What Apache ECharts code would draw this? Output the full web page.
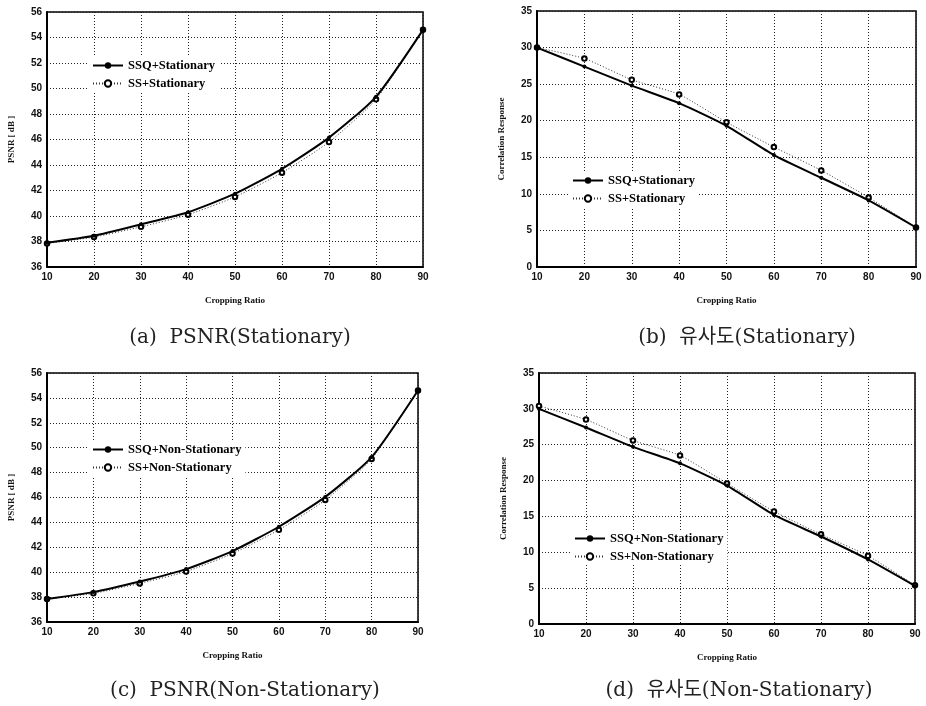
<!DOCTYPE html>
<html>
<head>
<meta charset="utf-8">
<script src="https://cdn.jsdelivr.net/npm/echarts@6/dist/echarts.min.js"></script>
<style>
  html, body { margin: 0; padding: 0; background: #fff; }
  #chart { width: 926px; height: 706px; }
</style>
</head>
<body>
<div id="chart"></div>
<script>
// cropping ratio (x axis)
const ratios = [10, 20, 30, 40, 50, 60, 70, 80, 90]

// PSNR, stationary
const psnrSsqStat = [37.9, 38.45, 39.35, 40.3, 41.75, 43.7, 46.15, 49.35, 54.6]
const psnrSsStat = [37.85, 38.35, 39.15, 40.1, 41.5, 43.4, 45.8, 49.15, 54.6]

// correlation response, stationary
const corrSsqStat = [30.0, 27.4, 24.8, 22.4, 19.3, 15.3, 12.2, 9.1, 5.4]
const corrSsStat = [30.0, 28.5, 25.6, 23.6, 19.8, 16.4, 13.2, 9.5, 5.4]

// PSNR, non-stationary
const psnrSsqNon = [37.85, 38.4, 39.25, 40.25, 41.7, 43.65, 46.05, 49.25, 54.6]
const psnrSsNon = [37.85, 38.3, 39.1, 40.05, 41.5, 43.4, 45.8, 49.1, 54.6]

// correlation response, non-stationary
const corrSsqNon = [30.0, 27.4, 24.7, 22.4, 19.3, 15.2, 12.2, 9.0, 5.3]
const corrSsNon = [30.4, 28.5, 25.6, 23.5, 19.6, 15.7, 12.5, 9.5, 5.4]

const captions = ['(a)  PSNR(Stationary)', '(b)  유사도(Stationary)', '(c)  PSNR(Non-Stationary)', '(d)  유사도(Non-Stationary)']
const legendNames = [
  ['SSQ+Stationary', 'SS+Stationary'],
  ['SSQ+Stationary', 'SS+Stationary'],
  ['SSQ+Non-Stationary', 'SS+Non-Stationary'],
  ['SSQ+Non-Stationary', 'SS+Non-Stationary']
]

const serif = '"Liberation Serif", "DejaVu Serif", serif'
const captionFont = '"DejaVu Serif", "Noto Sans CJK KR", serif'
const panels = [
  { grid: { left: 47, top: 12, width: 376, height: 255 }, yName: 'PSNR [ dB ]', min: 36, max: 56, step: 2,
    ssq: psnrSsqStat, ss: psnrSsStat, legend: { left: 88, top: 57 }, caption: { x: 235, y: 323 } },
  { grid: { left: 537, top: 11, width: 379, height: 256 }, yName: 'Correlation Response', min: 0, max: 35, step: 5,
    ssq: corrSsqStat, ss: corrSsStat, legend: { left: 568, top: 172 }, caption: { x: 742, y: 323 } },
  { grid: { left: 47, top: 373, width: 371, height: 249 }, yName: 'PSNR [ dB ]', min: 36, max: 56, step: 2,
    ssq: psnrSsqNon, ss: psnrSsNon, legend: { left: 88, top: 441 }, caption: { x: 240, y: 676 } },
  { grid: { left: 539, top: 373, width: 376, height: 251 }, yName: 'Correlation Response', min: 0, max: 35, step: 5,
    ssq: corrSsqNon, ss: corrSsNon, legend: { left: 570, top: 530 }, caption: { x: 734, y: 676 } }
]

function pairs(values) {
  return ratios.map((r, i) => [r, values[i]])
}

const dotted = { type: [1, 2], color: '#222', width: 1 }

function buildOption() {
  const option = {
    animation: false,
    backgroundColor: '#fff',
    title: [],
    grid: [],
    xAxis: [],
    yAxis: [],
    legend: [],
    series: []
  }

  panels.forEach((p, i) => {
    option.grid.push({
      ...p.grid,
      show: true,
      borderColor: '#000',
      borderWidth: 1.5,
      backgroundColor: 'transparent'
    })
    option.xAxis.push({
      type: 'value',
      gridIndex: i,
      min: 10,
      max: 90,
      interval: 10,
      name: 'Cropping Ratio',
      nameLocation: 'middle',
      nameGap: 29,
      nameTextStyle: { fontFamily: serif, fontWeight: 'bold', fontSize: 9, color: '#111' },
      axisLine: { lineStyle: { color: '#000', width: 2 } },
      axisTick: { show: false },
      axisLabel: { fontFamily: 'Arial, "Liberation Sans", sans-serif', fontWeight: 'bold', fontSize: 10, color: '#111', margin: 5 },
      splitLine: { show: true, lineStyle: dotted }
    })
    option.yAxis.push({
      type: 'value',
      gridIndex: i,
      min: p.min,
      max: p.max,
      interval: p.step,
      name: p.yName,
      nameLocation: 'middle',
      nameGap: 31,
      nameTextStyle: { fontFamily: serif, fontWeight: 'bold', fontSize: 9, color: '#111' },
      axisLine: { show: true, lineStyle: { color: '#000', width: 2 } },
      axisTick: { show: false },
      axisLabel: { fontFamily: 'Arial, "Liberation Sans", sans-serif', fontWeight: 'bold', fontSize: 10, color: '#111', margin: 5 },
      splitLine: { show: true, lineStyle: dotted }
    })
    option.legend.push({
      data: legendNames[i],
      orient: 'vertical',
      left: p.legend.left,
      top: p.legend.top,
      itemWidth: 30,
      itemHeight: 8,
      itemGap: 5,
      padding: [2, 4],
      backgroundColor: '#fff',
      textStyle: { fontFamily: serif, fontWeight: 'bold', fontSize: 12.5, color: '#000' }
    })
    option.title.push({
      text: captions[i],
      left: p.caption.x,
      top: p.caption.y,
      textAlign: 'center',
      textStyle: { fontFamily: captionFont, fontWeight: 'normal', fontSize: 20, color: '#222' }
    })
    option.series.push({
      name: legendNames[i][0],
      type: 'line',
      xAxisIndex: i,
      yAxisIndex: i,
      data: pairs(p.ssq),
      smooth: 0.2,
      symbol: 'circle',
      symbolSize: 4,
      lineStyle: { color: '#000', width: 2 },
      itemStyle: { color: '#000' },
      z: 3
    })
    option.series.push({
      name: legendNames[i][1],
      type: 'line',
      xAxisIndex: i,
      yAxisIndex: i,
      data: pairs(p.ss),
      smooth: 0.2,
      symbol: 'emptyCircle',
      symbolSize: 4.5,
      lineStyle: { color: '#333', width: 1, type: [1, 2] },
      itemStyle: { color: '#000', borderColor: '#000', borderWidth: 1 },
      z: 2
    })
  })

  return option
}

const chart = echarts.init(document.getElementById('chart'))
chart.setOption(buildOption())
</script>
</body>
</html>
